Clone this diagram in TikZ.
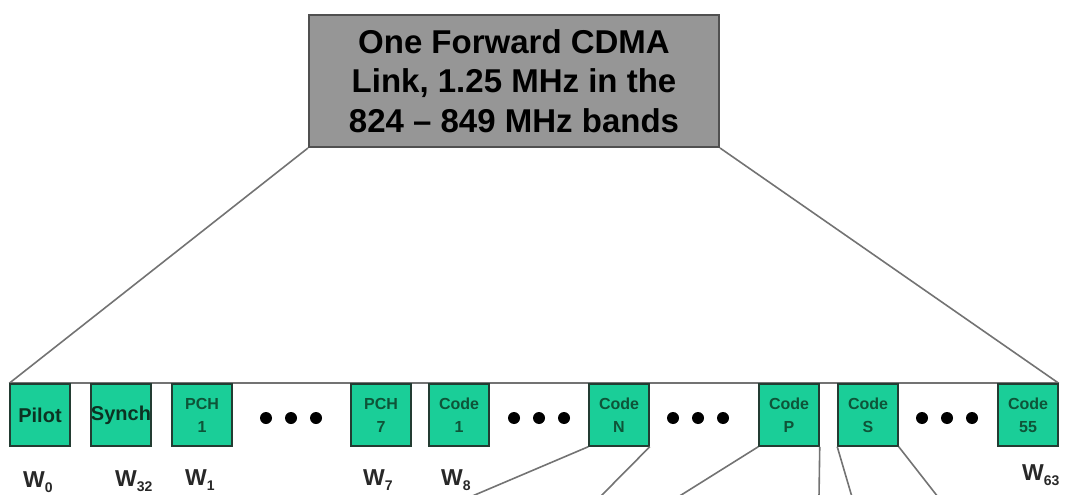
\documentclass[tikz,border=0pt]{standalone}
\usepackage{fontspec}
\setmainfont{Liberation Sans}
\usepackage{tikz}
\usetikzlibrary{positioning,backgrounds}
\definecolor{chgreen}{RGB}{26,206,152}
\definecolor{chedge}{RGB}{35,60,50}
\definecolor{chtext}{RGB}{14,84,56}
\definecolor{chdark}{RGB}{12,50,34}
\definecolor{linkgray}{RGB}{150,150,150}
\definecolor{linkedge}{RGB}{80,80,80}
\definecolor{wiregray}{RGB}{115,115,115}
\definecolor{wdark}{RGB}{40,40,40}

\begin{document}
\begin{tikzpicture}[x=1pt,y=-1pt,
  chan/.style={draw=chedge,line width=1.5pt,fill=chgreen,minimum width=60pt,minimum height=62pt,
    inner sep=0pt,align=center,text=chtext,font=\bfseries\fontsize{16}{23}\selectfont},
  bigchan/.style={chan,text=chdark,font=\bfseries\fontsize{20}{24}\selectfont},
  wire/.style={wiregray,line width=1.6pt},
  wlab/.style={anchor=base west,inner sep=0pt,text=wdark,font=\bfseries\fontsize{23}{26}\selectfont}]
  \useasboundingbox (0,0) rectangle (1066,495);

  \node[draw=linkedge,fill=linkgray,line width=2pt,minimum width=410pt,minimum height=132pt,
    align=center,font=\bfseries\fontsize{33}{39.5}\selectfont] (link) at (514,81)
    {One Forward CDMA\\Link, 1.25 MHz in the\\824 -- 849 MHz bands};

  % channels
  \foreach \x/\nm/\lab in {40/pilot/Pilot,121/synch/Synch}
    \node[bigchan] (\nm) at (\x,415) {\lab};
  \foreach \x/\nm/\lname/\lnum in {202/pch1/PCH/1,381/pch7/PCH/7,459/code1/Code/1,619/codeN/Code/N,
      789/codeP/Code/P,868/codeS/Code/S,1028/code55/Code/55}
    \node[chan] (\nm) at (\x,415) {\lname\\\lnum};

  \foreach \c in {291,539,698,947}
    \foreach \d in {-25,0,25}
      \fill (\c+\d,418) circle (6pt);

  \begin{pgfonlayer}{background}
    \draw[wire] (pilot.north west) -- (code55.north east);
    \draw[wire] (link.south west) -- (pilot.north west);
    \draw[wire] (link.south east) -- (code55.north east);
  \end{pgfonlayer}

  % walsh codes
  \foreach \nm/\x/\y/\s in {w0/23/487/0,w32/115/486/32,w1/185/485/1,w7/363/485/7,w8/441/485/8,w63/1022/480/63}
    \node[wlab] (\nm) at (\x,\y) {W{\fontsize{14}{14}\selectfont\raisebox{-5pt}{\s}}};

  \foreach \nm/\x in {endNa/470,endNb/600,endPa/678,endPb/819,endSa/852,endSb/938}
    \coordinate (\nm) at (\x,497);
  \draw[wire] (codeN.south west) -- (endNa);
  \draw[wire] (codeN.south east) -- (endNb);
  \draw[wire] (codeP.south west) -- (endPa);
  \draw[wire] (codeP.south east) -- (endPb);
  \draw[wire] (codeS.south west) -- (endSa);
  \draw[wire] (codeS.south east) -- (endSb);
\end{tikzpicture}
\end{document}
